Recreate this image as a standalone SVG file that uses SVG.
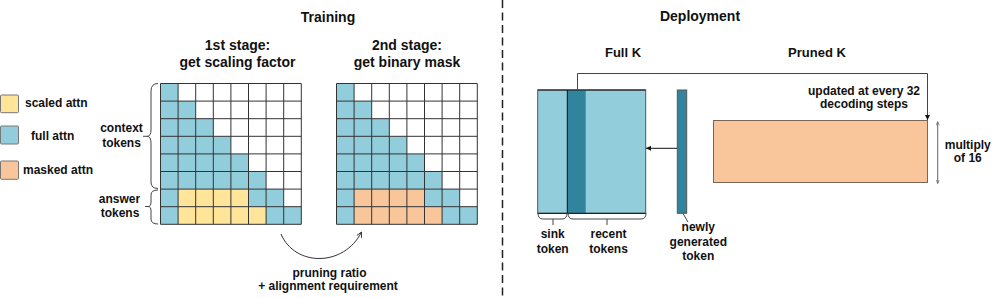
<svg xmlns="http://www.w3.org/2000/svg" xmlns:xlink="http://www.w3.org/1999/xlink" width="996" height="298" viewBox="0 0 996 298">
<style>
text{font-family:"Liberation Sans",Arial,sans-serif;font-weight:bold;fill:#111}
.t14{font-size:14px}
.t13{font-size:13px}
.t12{font-size:12px;text-anchor:middle}
.c{text-anchor:middle}
.blue{fill:#92CDDC}
.yel{fill:#FFE599}
.org{fill:#F9C59B}
.teal{fill:#31849B}
.line{fill:none;stroke:#444;stroke-width:1}
.gl{fill:none;stroke:#333;stroke-width:1}
</style>
<defs>
<path id="grid" d="M0,0H140.8M0,17.6H140.8M0,35.2H140.8M0,52.8H140.8M0,70.4H140.8M0,88H140.8M0,105.6H140.8M0,123.2H140.8M0,140.8H140.8M0,0V140.8M17.6,0V140.8M35.2,0V140.8M52.8,0V140.8M70.4,0V140.8M88,0V140.8M105.6,0V140.8M123.2,0V140.8M140.8,0V140.8"/>
<marker id="arr" viewBox="0 0 6 6" refX="6" refY="3" markerWidth="5" markerHeight="5" orient="auto" markerUnits="userSpaceOnUse"><path d="M0,0L6,3L0,6z" fill="#111"/></marker>
<marker id="open" viewBox="0 0 8 8" refX="7" refY="4" markerWidth="7" markerHeight="7" orient="auto" markerUnits="userSpaceOnUse"><path d="M1,1L7,4L1,7" fill="none" stroke="#333" stroke-width="1"/></marker>
<marker id="tiny" viewBox="0 0 6 6" refX="6" refY="3" markerWidth="4" markerHeight="4" orient="auto" markerUnits="userSpaceOnUse"><path d="M0,0.5L6,3L0,5.5" fill="none" stroke="#666" stroke-width="1"/></marker>
</defs>
<rect width="996" height="298" fill="#fff"/>

<g id="titles">
<text class="t14 c" x="328" y="22">Training</text>
<text class="t14 c" x="700" y="21">Deployment</text>
</g>

<g id="legend">
<rect x="0.5" y="95" width="18" height="17.7" rx="1" class="yel" stroke="#777"/>
<text class="t12" x="25" y="107" style="text-anchor:start">scaled attn</text>
<rect x="0.5" y="126" width="18" height="18" rx="1" class="blue" stroke="#777"/>
<text class="t12" x="31" y="139.5" style="text-anchor:start">full attn</text>
<rect x="0.5" y="161" width="18" height="18.3" rx="1" class="org" stroke="#777"/>
<text class="t12" x="23" y="174" style="text-anchor:start">masked attn</text>
</g>

<g id="stage1">
<text class="t14 c" x="237.5" y="50">1st stage:</text>
<text class="t14 c" x="237.5" y="66.5">get scaling factor</text>
<rect x="160.5" y="83.5" width="140.8" height="140.8" fill="#fff"/>
<polygon class="blue" points="160.5,83.5 178.1,83.5 178.1,101.1 195.7,101.1 195.7,118.7 213.3,118.7 213.3,136.3 230.9,136.3 230.9,153.9 248.5,153.9 248.5,171.5 266.1,171.5 266.1,189.1 283.7,189.1 283.7,206.7 301.3,206.7 301.3,224.3 160.5,224.3"/>
<rect class="yel" x="178.1" y="189.1" width="70.4" height="17.6"/>
<rect class="yel" x="178.1" y="206.7" width="88" height="17.6"/>
<use xlink:href="#grid" href="#grid" class="gl" transform="translate(160.5,83.5)"/>
</g>

<g id="stage2">
<text class="t14 c" x="407" y="50">2nd stage:</text>
<text class="t14 c" x="407" y="66.5">get binary mask</text>
<rect x="336.5" y="83.5" width="140.8" height="140.8" fill="#fff"/>
<polygon class="blue" points="336.5,83.5 354.1,83.5 354.1,101.1 371.7,101.1 371.7,118.7 389.3,118.7 389.3,136.3 406.9,136.3 406.9,153.9 424.5,153.9 424.5,171.5 442.1,171.5 442.1,189.1 459.7,189.1 459.7,206.7 477.3,206.7 477.3,224.3 336.5,224.3"/>
<rect class="org" x="354.1" y="189.1" width="70.4" height="17.6"/>
<rect class="org" x="354.1" y="206.7" width="88" height="17.6"/>
<use xlink:href="#grid" href="#grid" class="gl" transform="translate(336.5,83.5)"/>
</g>

<g id="context-tokens">
<path class="line" d="M158,83.5 Q151,83.5 151,91 L151,130 Q151,136.3 147,136.3 Q151,136.3 151,143 L151,182 Q151,188.5 158,188.5"/>
<path class="line" d="M143,136.3H147"/>
<text class="t12" x="121.5" y="131.7">context</text>
<text class="t12" x="121.5" y="146.7">tokens</text>
</g>

<g id="answer-tokens">
<path class="line" d="M158,190 Q151,190 151,195 L151,202 Q151,206.5 148,206.5 Q151,206.5 151,211 L151,219 Q151,224 158,224"/>
<path class="line" d="M145,206.5H148"/>
<text class="t12" x="119.5" y="203.3">answer</text>
<text class="t12" x="120" y="217">tokens</text>
</g>

<g id="pruning-label">
<text class="t12" x="329.5" y="277">pruning ratio</text>
<text class="t12" x="328" y="290">+ alignment requirement</text>
</g>

<g id="divider">
<line x1="502.5" y1="0" x2="502.5" y2="298" stroke="#222" stroke-width="1.5" stroke-dasharray="8 4.5"/>
</g>

<g id="full-k">
<text class="t13 c" x="623" y="57">Full K</text>
<rect class="blue" x="537.7" y="90" width="108" height="123.3" stroke="#555"/>
<rect class="teal" x="567.3" y="90" width="18.4" height="123.3"/>
<line x1="567.3" y1="90" x2="567.3" y2="213.3" stroke="#111"/>
<line x1="537.7" y1="90" x2="645.7" y2="90" stroke="#111"/>
<line x1="537.7" y1="213.3" x2="645.7" y2="213.3" stroke="#111"/>
</g>

<g id="sink-token">
<path class="line" d="M538,213 Q538,219 543,219 H562 Q567,219 567,213 M553,219V225"/>
<text class="t12" x="552.7" y="237.7">sink</text>
<text class="t12" x="552.7" y="252.7">token</text>
</g>

<g id="recent-tokens">
<path class="line" d="M568,213 Q568,219 573,219 H641 Q646,219 646,213 M607,219V225"/>
<text class="t12" x="608.5" y="237.7">recent</text>
<text class="t12" x="608.5" y="252.7">tokens</text>
</g>

<g id="newly-token">
<rect class="teal" x="677.3" y="90" width="9.4" height="123.3" stroke="#555"/>
<path class="line" d="M683,213.5L688,222"/>
<text class="t12" x="698.3" y="231">newly</text>
<text class="t12" x="698.3" y="245.5">generated</text>
<text class="t12" x="698.3" y="260">token</text>
</g>

<g id="pruned-k">
<text class="t13 c" x="817" y="57">Pruned K</text>
<rect class="org" x="713.5" y="120.5" width="214" height="62" stroke="#7a6655"/>
<text class="t12" x="864" y="94.7">updated at every 32</text>
<text class="t12" x="864" y="108">decoding steps</text>
<text class="t12" x="967.8" y="148.7">multiply</text>
<text class="t12" x="967.8" y="162">of 16</text>
</g>

<g id="connectors">
<path class="line" d="M577.5,90V73.5H927.5V120" marker-end="url(#arr)"/>
<path d="M677,148.3H646" fill="none" stroke="#111" stroke-width="1" marker-end="url(#arr)"/>
<path d="M281,234C295,267 344,267 361.5,232" fill="none" stroke="#333" stroke-width="1" marker-end="url(#open)"/>
<path d="M937.7,152V121.5" fill="none" stroke="#666" stroke-width="1" marker-end="url(#tiny)"/>
<path d="M937.7,152V183.5" fill="none" stroke="#666" stroke-width="1" marker-end="url(#tiny)"/>
</g>
</svg>
